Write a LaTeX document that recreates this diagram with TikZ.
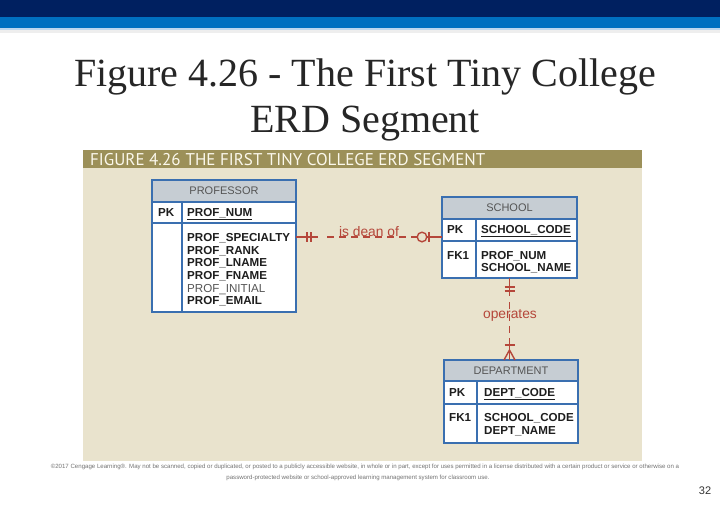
\documentclass[tikz,border=0pt]{standalone}
\usepackage{fontspec}
\setmainfont{Liberation Serif}
\setsansfont{Liberation Sans}
\newfontfamily\figfont{PT Sans}
\usetikzlibrary{calc}
\definecolor{navy}{HTML}{002060}
\definecolor{barblue}{HTML}{0070C0}
\definecolor{lightblue}{HTML}{BDD7EE}
\definecolor{lightgrey}{HTML}{EEEEEE}
\definecolor{beige}{HTML}{E9E3CD}
\definecolor{olive}{HTML}{9C9059}
\definecolor{cream}{HTML}{FBF8EC}
\definecolor{tblblue}{HTML}{3A6FB0}
\definecolor{hdrgray}{HTML}{C6CDD3}
\definecolor{relred}{HTML}{B5473A}
\definecolor{txtdark}{HTML}{1E1E1E}
\definecolor{txtgray}{HTML}{555555}
\tikzset{
  tbl/.style={draw=tblblue, line width=1.7pt, fill=white, inner sep=0pt, outer sep=0pt, anchor=north west},
  tblline/.style={draw=tblblue, line width=1.7pt},
  hdrtxt/.style={font=\sffamily\fontsize{11}{12}\selectfont, text=txtgray, inner sep=0pt},
  attr/.style={font=\sffamily\bfseries\fontsize{11.6}{12}\selectfont, text=txtdark, inner sep=0pt, anchor=base west},
  attrlight/.style={font=\sffamily\fontsize{11.6}{12}\selectfont, text=txtgray, inner sep=0pt, anchor=base west},
  relsolid/.style={draw=relred, line width=1.4pt},
  reldash/.style={draw=relred, line width=1.4pt, dash pattern=on 7pt off 5pt},
  reltxt/.style={font=\sffamily\fontsize{13.8}{14}\selectfont, text=relred, inner sep=0pt},
  titletext/.style={font=\fontsize{40}{46}\selectfont, text=black!85, inner sep=0pt, anchor=base},
  foot/.style={inner sep=0pt, font=\sffamily\fontsize{6.1}{7}\selectfont, text=black!55},
}
\begin{document}
\begin{tikzpicture}[x=1pt,y=-1pt]
\useasboundingbox (0,0) rectangle (720,504);
\fill[white] (0,0) rectangle (720,504);
% top bars
\fill[navy] (0,0) rectangle (720,17);
\fill[barblue] (0,17) rectangle (720,28);
\fill[lightblue] (0,28) rectangle (720,30);
\fill[lightgrey] (0,30) rectangle (720,33);
% title
\node[titletext] (t1) at (365,86) {Figure 4.26 - The First Tiny College};
\node[titletext] (t2) at (365,132) {ERD Segment};
% figure panel
\fill[beige] (83,150) rectangle (642,461);
\fill[olive] (83,150) rectangle (642,168);
\node[anchor=base west, inner sep=0pt, font=\figfont\fontsize{17}{17}\selectfont, text=cream] (fighead) at (90,165.5) {FIGURE 4.26\hspace{5pt}THE FIRST TINY COLLEGE ERD SEGMENT};

% PROFESSOR
\node[tbl, minimum width=144pt, minimum height=132pt] (prof) at (152,180) {};
\fill[hdrgray] (prof.north west) rectangle ($(prof.north east)+(0,22)$);
\draw[tblline] ($(prof.north west)+(0,22)$) -- ($(prof.north east)+(0,22)$);
\draw[tblline] ($(prof.north west)+(0,43)$) -- ($(prof.north east)+(0,43)$);
\draw[tblline] ($(prof.north west)+(30,22)$) -- ($(prof.south west)+(30,0)$);
\draw[tblline] (prof.north west) rectangle (prof.south east);
\node[hdrtxt] (profhdr) at ($(prof.north)+(0,11)$) {PROFESSOR};
\node[attr] (profpk) at (158,216) {PK};
\node[attr] (profnum) at (187,216) {\underline{PROF\_NUM}};
\node[attr] (profspec) at (187,241) {PROF\_SPECIALTY};
\node[attr] (profrank) at (187,254) {PROF\_RANK};
\node[attr] (proflname) at (187,266) {PROF\_LNAME};
\node[attr] (proffname) at (187,279) {PROF\_FNAME};
\node[attrlight] (profinit) at (187,292) {PROF\_INITIAL};
\node[attr] (profemail) at (187,304) {PROF\_EMAIL};

% SCHOOL
\node[tbl, minimum width=135pt, minimum height=81pt] (school) at (442,197) {};
\fill[hdrgray] (school.north west) rectangle ($(school.north east)+(0,22)$);
\draw[tblline] ($(school.north west)+(0,22)$) -- ($(school.north east)+(0,22)$);
\draw[tblline] ($(school.north west)+(0,44)$) -- ($(school.north east)+(0,44)$);
\draw[tblline] ($(school.north west)+(34,22)$) -- ($(school.south west)+(34,0)$);
\draw[tblline] (school.north west) rectangle (school.south east);
\node[hdrtxt] (schoolhdr) at ($(school.north)+(0,11)$) {SCHOOL};
\node[attr] (schoolpk) at (447,233) {PK};
\node[attr] (schoolcode) at (481,233) {\underline{SCHOOL\_CODE}};
\node[attr] (schoolfk) at (447,259) {FK1};
\node[attr] (schoolprof) at (481,259) {PROF\_NUM};
\node[attr] (schoolname) at (481,271) {SCHOOL\_NAME};

% DEPARTMENT
\node[tbl, minimum width=134pt, minimum height=83pt] (dept) at (444,360) {};
\fill[hdrgray] (dept.north west) rectangle ($(dept.north east)+(0,21)$);
\draw[tblline] ($(dept.north west)+(0,21)$) -- ($(dept.north east)+(0,21)$);
\draw[tblline] ($(dept.north west)+(0,44)$) -- ($(dept.north east)+(0,44)$);
\draw[tblline] ($(dept.north west)+(33,21)$) -- ($(dept.south west)+(33,0)$);
\draw[tblline] (dept.north west) rectangle (dept.south east);
\node[hdrtxt] (depthdr) at ($(dept.north)+(0,10.5)$) {DEPARTMENT};
\node[attr] (deptpk) at (449,396) {PK};
\node[attr] (deptcode) at (484,396) {\underline{DEPT\_CODE}};
\node[attr] (deptfk) at (449,421) {FK1};
\node[attr] (deptschool) at (484,421) {SCHOOL\_CODE};
\node[attr] (deptname) at (484,434) {DEPT\_NAME};

% relationship: is dean of
\coordinate (dl) at ($(prof.east)+(0,-9)$);
\coordinate (dr) at (school.west |- dl);
\draw[relsolid] (dl) -- ($(dl)+(22,0)$);
\draw[reldash] ($(dl)+(31,0)$) -- ($(dr)+(-26,0)$);
\draw[relsolid] ($(dr)+(-26,0)$) -- (dr);
\draw[relsolid] ($(dl)+(11,-5)$) -- ($(dl)+(11,5)$);
\draw[relsolid] ($(dl)+(15,-5)$) -- ($(dl)+(15,5)$);
\draw[relsolid, fill=beige] ($(dr)+(-20,0)$) circle (4.8pt);
\draw[relsolid] ($(dr)+(-13,-5)$) -- ($(dr)+(-13,5)$);
\node[reltxt] (dean) at (369,232) {is dean of};

% relationship: operates
\coordinate (ot) at (school.south);
\coordinate (ob) at (ot |- dept.north);
\draw[relsolid] (ot) -- ($(ot)+(0,18)$);
\draw[reldash] ($(ot)+(0,24)$) -- ($(ob)+(0,-20)$);
\draw[relsolid] ($(ob)+(0,-20)$) -- (ob);
\draw[relsolid] ($(ot)+(-5,9)$) -- ($(ot)+(5,9)$);
\draw[relsolid] ($(ot)+(-5,13)$) -- ($(ot)+(5,13)$);
\draw[relsolid] ($(ob)+(-5,-15)$) -- ($(ob)+(5,-15)$);
\draw[relsolid] ($(ob)+(0,-10)$) -- ($(ob)+(-5.5,0)$);
\draw[relsolid] ($(ob)+(0,-10)$) -- ($(ob)+(5.5,0)$);
\node[reltxt] (oper) at (510,315) {operates};

% footer
\node[foot] (copy1) at (365,467) {©2017 Cengage Learning®. May not be scanned, copied or duplicated, or posted to a publicly accessible website, in whole or in part, except for uses permitted in a license distributed with a certain product or service or otherwise on a};
\node[foot] (copy2) at (358,478) {password-protected website or school-approved learning management system for classroom use.};
\node[inner sep=0pt, font=\sffamily\fontsize{11}{12}\selectfont, text=black!80] (pagenum) at (705,491) {32};
\end{tikzpicture}
\end{document}
